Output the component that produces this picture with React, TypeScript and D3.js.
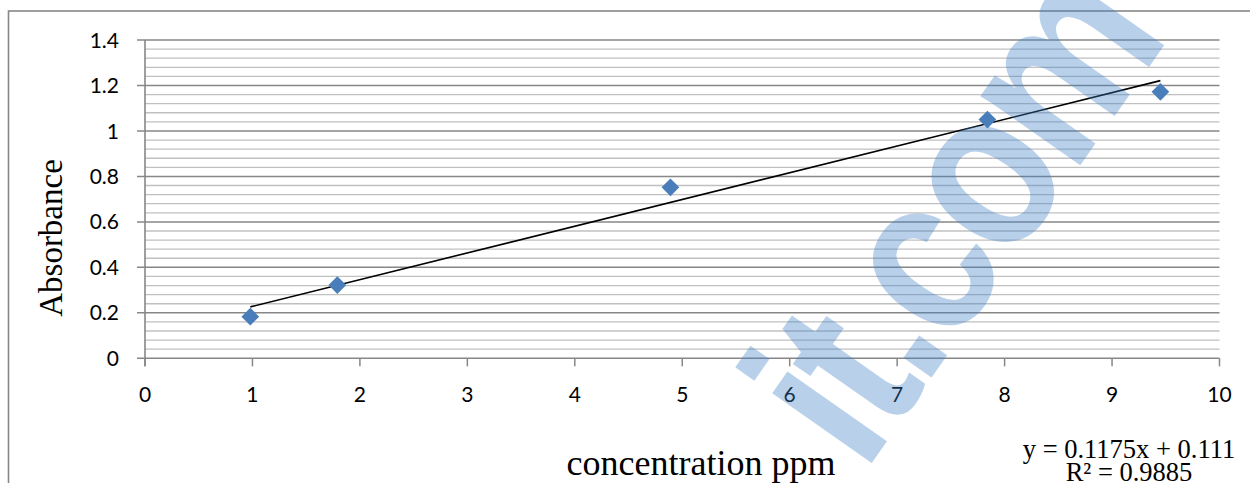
import React from "react";
import * as d3 from "d3";

const concentration = [0.98, 1.79, 4.89, 7.84, 9.45];
const absorbance = [0.183, 0.322, 0.752, 1.05, 1.172];
const xTickValues = [0, 1, 2, 3, 4, 5, 6, 7, 8, 9, 10];
const yTickValues = [0, 0.2, 0.4, 0.6, 0.8, 1, 1.2, 1.4];
const yTickLabels = ["0", "0.2", "0.4", "0.6", "0.8", "1", "1.2", "1.4"];
const trendSlope = 0.1175;
const trendIntercept = 0.111;
const equationLines = ["y = 0.1175x + 0.111", "R² = 0.9885"];
const xTitle = "concentration ppm";
const yTitle = "Absorbance";
const watermark = "it.com";

export default function App() {
  const W = 1250, H = 483;
  const left = 145, right = 1219.5, top = 40, bottom = 358.3;
  const x = d3.scaleLinear().domain([0, 10]).range([left, right]);
  const y = d3.scaleLinear().domain([0, 1.4]).range([bottom, top]);
  const minor = d3.range(0, 1.4001, 0.04).filter(v => Math.abs(Math.round(v / 0.2) * 0.2 - v) > 1e-6);
  const xs = [d3.min(concentration)!, d3.max(concentration)!];
  const line = d3.line<number>().x(v => x(v)).y(v => y(trendSlope * v + trendIntercept));
  const diamond = d3.symbol().type(d3.symbolDiamond2).size(200)();
  const tickFont = "Lato, 'Open Sans', sans-serif";
  const serif = "'Liberation Serif', 'Times New Roman', serif";
  return (
    <svg width={W} height={H} style={{ position: "absolute", left: 0, top: 0 }}>
      <rect x={0} y={0} width={W} height={H} fill="#fff" />
      <rect x={8.5} y={11} width={1300} height={600} fill="none" stroke="#878787" strokeWidth={1.6} />
      {minor.map((v, i) => (
        <line key={"m" + i} x1={left} x2={right} y1={y(v)} y2={y(v)} stroke="#c0c0c0" strokeWidth={1.3} />
      ))}
      {yTickValues.map((v, i) => (
        <line key={"M" + i} x1={left - 8} x2={right} y1={y(v)} y2={y(v)} stroke="#878787" strokeWidth={1.5} />
      ))}
      <line x1={left} x2={left} y1={top} y2={bottom + 8} stroke="#878787" strokeWidth={1.6} />
      {xTickValues.map((v, i) => (
        <line key={"xt" + i} x1={x(v)} x2={x(v)} y1={bottom} y2={bottom + 8} stroke="#878787" strokeWidth={1.5} />
      ))}
      {yTickValues.map((v, i) => (
        <text key={"yl" + i} x={119} y={y(v)} dy="0.36em" textAnchor="end" fontFamily={tickFont} fontSize={21} fill="#000">
          {yTickLabels[i]}
        </text>
      ))}
      {xTickValues.map((v, i) => (
        <text key={"xl" + i} x={x(v)} y={402} textAnchor="middle" fontFamily={tickFont} fontSize={21} fill="#000">
          {String(v)}
        </text>
      ))}
      <path d={line(xs) || ""} fill="none" stroke="#000" strokeWidth={1.6} />
      {concentration.map((c, i) => (
        <path key={"p" + i} d={diamond || ""} transform={`translate(${x(c)},${y(absorbance[i])})`} fill="#4a7ebb" />
      ))}
      <text x={61.5} y={238} transform="rotate(-90 61.5 238)" textAnchor="middle" fontFamily={serif} fontSize={33} fill="#000">
        {yTitle}
      </text>
      <text x={701} y={475} textAnchor="middle" fontFamily={serif} fontSize={36} fill="#000">
        {xTitle}
      </text>
      {equationLines.map((t, i) => (
        <text key={"eq" + i} x={1129} y={457.5 + i * 23.5} textAnchor="middle" fontFamily={serif} fontSize={26.5} fill="#000">
          {t}
        </text>
      ))}
      <g transform="translate(864,474) rotate(-55) scale(0.84,1)">
        <text x={0} y={0} fontFamily="'Liberation Sans', Arial, sans-serif" fontWeight="bold" fontSize={230} letterSpacing={-8} fill="#3d7fc6" opacity={0.36}>
          {watermark}
        </text>
      </g>
    </svg>
  );
}
